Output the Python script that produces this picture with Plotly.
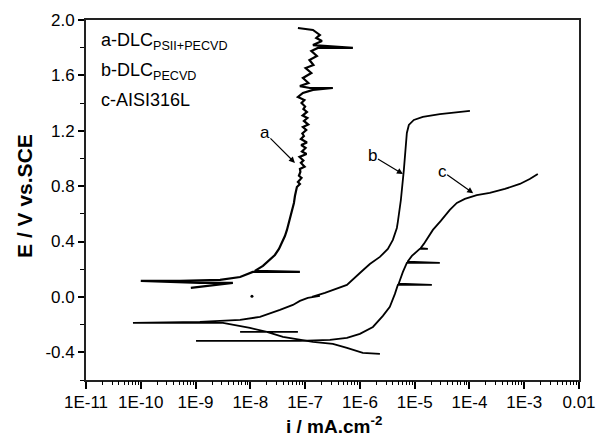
import math
import plotly.graph_objects as go

# ---------------- data ----------------
# curve a : DLC PSII+PECVD
a_i = [8.2e-10, 4.8e-9, 1.2e-9, 1.0e-10, 5.2e-10, 2.8e-9, 6.5e-9, 1.11e-8, 8.04e-8, 1.21e-8,
       1.70e-8, 2.28e-8, 2.81e-8, 3.33e-8, 3.78e-8, 4.28e-8, 4.66e-8, 5.06e-8, 5.51e-8, 5.74e-8,
       6.25e-8, 6.52e-8, 6.79e-8, 7.08e-8,
       8.04e-8, 7.39e-8, 8.6e-8, 7.71e-8, 8.2e-8, 8.04e-8, 9.8e-8, 8.38e-8, 9.3e-8, 7.9e-8,
       1.06e-7, 8.75e-8, 1.02e-7, 8.5e-8, 1.08e-7, 8.38e-8, 9.5e-8, 8.9e-8, 1.05e-7, 9.12e-8,
       1.14e-7, 9.51e-8, 1.1e-7, 9.0e-8, 1.08e-7, 9.3e-8, 1.0e-7, 8.6e-8, 9.7e-8, 7.39e-8,
       9.12e-8, 1.39e-7, 3.21e-7, 1.22e-7, 8.04e-8, 1.15e-7, 9.12e-8, 1.3e-7, 1.02e-7, 1.42e-7,
       1.2e-7, 1.64e-7, 1.3e-7, 1.71e-7, 7.45e-7, 1.39e-7, 2.03e-7, 1.6e-7, 1.86e-7, 1.39e-7,
       7.39e-8]
a_E = [0.065, 0.101, 0.101, 0.116, 0.116, 0.123, 0.144, 0.181, 0.181, 0.188,
       0.224, 0.267, 0.303, 0.347, 0.390, 0.440, 0.484, 0.534, 0.585, 0.628,
       0.679, 0.729, 0.773, 0.794,
       0.816, 0.830, 0.859, 0.875, 0.903, 0.924, 0.940, 0.968, 0.985, 1.011,
       1.032, 1.050, 1.076, 1.097, 1.115, 1.141, 1.162, 1.180, 1.206, 1.227,
       1.245, 1.271, 1.292, 1.310, 1.336, 1.357, 1.375, 1.401, 1.422, 1.444,
       1.473, 1.495, 1.509, 1.509, 1.523, 1.545, 1.581, 1.617, 1.653, 1.675,
       1.711, 1.740, 1.776, 1.798, 1.798, 1.819, 1.848, 1.870, 1.892, 1.928,
       1.942]

# curve b : DLC PECVD
b_i = [2.32e-6, 1.13e-6, 5.8e-7, 3.21e-7, 1.39e-7, 8.04e-8, 3.94e-8, 2.0e-8, 7.39e-8, 6.5e-9,
       2.0e-8, 9.84e-9, 3.16e-9, 7.2e-11, 1.2e-9, 6.5e-9, 1.50e-8, 3.47e-8, 5.98e-8, 8.04e-8,
       1.12e-7, 1.86e-7, 1.33e-7, 2.30e-7, 5.8e-7, 1.0e-6, 1.52e-6, 2.32e-6, 3.24e-6, 4.0e-6,
       4.73e-6, 4.93e-6, 5.6e-6, 6.35e-6, 6.9e-6, 7.2e-6, 7.83e-6, 9.66e-6, 1.41e-5, 2.88e-5,
       1.02e-4]
b_E = [-0.411, -0.404, -0.368, -0.339, -0.325, -0.310, -0.289, -0.253, -0.253, -0.253,
       -0.253, -0.224, -0.188, -0.188, -0.180, -0.166, -0.144, -0.094, -0.058, -0.029,
       -0.007, 0.007, 0.000, 0.029, 0.087, 0.173, 0.238, 0.289, 0.347, 0.412,
       0.498, 0.542, 0.700, 0.917, 1.097, 1.184, 1.242, 1.278, 1.300, 1.321,
       1.343]

# curve c : AISI316L
c_i = [1.02e-9, 1.2e-8, 8.04e-8, 2.84e-7, 5.8e-7, 1.0e-6, 1.73e-6, 2.63e-6, 3.52e-6, 4.36e-6,
       4.93e-6, 2.06e-5, 5.1e-6, 6.1e-6, 7.2e-6, 2.88e-5, 7.4e-6, 8.9e-6, 1.24e-5, 1.74e-5,
       1.28e-5, 1.47e-5, 2.15e-5, 3.0e-5, 4.38e-5, 5.89e-5, 8.24e-5, 1.36e-4, 2.35e-4, 4.43e-4,
       8.32e-4, 1.26e-3, 1.77e-3]
c_E = [-0.318, -0.318, -0.318, -0.310, -0.296, -0.267, -0.217, -0.137, -0.072, 0.022,
       0.087, 0.087, 0.095, 0.181, 0.246, 0.246, 0.254, 0.296, 0.347, 0.347,
       0.352, 0.383, 0.484, 0.549, 0.628, 0.679, 0.708, 0.736, 0.751, 0.780,
       0.816, 0.852, 0.888]

dot_i = [1.07e-8]
dot_E = [0.005]

x_tickvals = [1e-11, 1e-10, 1e-9, 1e-8, 1e-7, 1e-6, 1e-5, 1e-4, 1e-3, 1e-2]
x_ticktext = ["1E-11", "1E-10", "1E-9", "1E-8", "1E-7", "1E-6", "1E-5", "1E-4", "1E-3", "0.01"]
y_tickvals = [-0.4, 0.0, 0.4, 0.8, 1.2, 1.6, 2.0]
y_ticktext = ["-0.4", "0.0", "0.4", "0.8", "1.2", "1.6", "2.0"]

legend_lines = ["a-DLC<sub>PSII+PECVD</sub>", "b-DLC<sub>PECVD</sub>", "c-AISI316L"]
curve_labels = ["a", "b", "c"]
# arrow heads (data) for labels a, b, c
label_head_i = [6.52e-8, 6.1e-6, 1.17e-4]
label_head_E = [0.968, 0.888, 0.749]

FONT = "Liberation Sans, Arial, sans-serif"

# minor log ticks (2..9 in each decade)
minor_x = [m * 10.0 ** d for d in range(-11, -2) for m in range(2, 10)]

fig = go.Figure()
fig.add_trace(go.Scatter(x=a_i, y=a_E, mode="lines", line=dict(color="black", width=2.2),
                         showlegend=False))
fig.add_trace(go.Scatter(x=b_i, y=b_E, mode="lines", line=dict(color="black", width=1.8),
                         showlegend=False))
fig.add_trace(go.Scatter(x=c_i, y=c_E, mode="lines", line=dict(color="black", width=1.8),
                         showlegend=False))
fig.add_trace(go.Scatter(x=dot_i, y=dot_E, mode="markers", marker=dict(color="black", size=3),
                         showlegend=False, xaxis="x2"))

offsets = [(-30, -30), (-30, -18), (-31, -22)]
for lab, hi, he, (ax, ay) in zip(curve_labels, label_head_i, label_head_E, offsets):
    fig.add_annotation(x=math.log10(hi), y=he, xref="x", yref="y", text=lab, showarrow=True,
                       ax=ax, ay=ay, arrowhead=2, arrowsize=1, arrowwidth=1.2, arrowcolor="black",
                       standoff=0, borderpad=0,
                       font=dict(size=17, color="black", family=FONT))

leg_y = [0.940, 0.858, 0.778]
for t, yy in zip(legend_lines, leg_y):
    fig.add_annotation(x=0.026, y=yy, xref="paper", yref="paper", text=t, showarrow=False,
                       xanchor="left", yanchor="middle",
                       font=dict(size=18, color="black", family=FONT))

# axis titles
fig.add_annotation(x=0.503, y=-0.125, xref="paper", yref="paper",
                   text="<b>i / mA.cm<sup>-2</sup></b>", showarrow=False,
                   xanchor="center", yanchor="middle",
                   font=dict(size=19, color="black", family=FONT))
fig.add_annotation(x=-0.126, y=0.511, xref="paper", yref="paper",
                   text="<b>E / V vs.SCE</b>", showarrow=False, textangle=-90,
                   xanchor="center", yanchor="middle",
                   font=dict(size=21, color="black", family=FONT))

fig.update_layout(
    width=597, height=437,
    margin=dict(l=86, r=18, t=20, b=57),
    plot_bgcolor="white", paper_bgcolor="white",
    font=dict(family=FONT, color="black", size=17),
    xaxis=dict(
        type="log", range=[-11, -2], automargin=False,
        tickmode="array", tickvals=x_tickvals, ticktext=x_ticktext,
        ticks="outside", ticklen=7, tickwidth=1.5, tickcolor="black",
        ticklabelstandoff=-1,
        showline=True, linecolor="#222", linewidth=1.8, mirror=True,
        showgrid=False, zeroline=False, tickfont=dict(size=17),
    ),
    xaxis2=dict(
        type="log", range=[-11, -2], overlaying="x", side="bottom", automargin=False,
        tickmode="array", tickvals=minor_x, showticklabels=False,
        ticks="outside", ticklen=4, tickwidth=1.2, tickcolor="black",
        showline=False, showgrid=False, zeroline=False,
    ),
    yaxis=dict(
        range=[-0.6, 2.0], automargin=False,
        tickmode="array", tickvals=y_tickvals, ticktext=y_ticktext,
        ticks="outside", ticklen=6, tickwidth=1.5, tickcolor="black",
        minor=dict(ticks="outside", ticklen=4, tickwidth=1.2, tickcolor="black",
                   tickmode="linear", tick0=0, dtick=0.2, showgrid=False),
        showline=True, linecolor="#222", linewidth=1.8, mirror=True,
        showgrid=False, zeroline=False, tickfont=dict(size=17),
    ),
)

fig.write_html("out.html", config={"displayModeBar": False},
               post_script="document.body.style.margin='0px';document.body.style.padding='0px';")
